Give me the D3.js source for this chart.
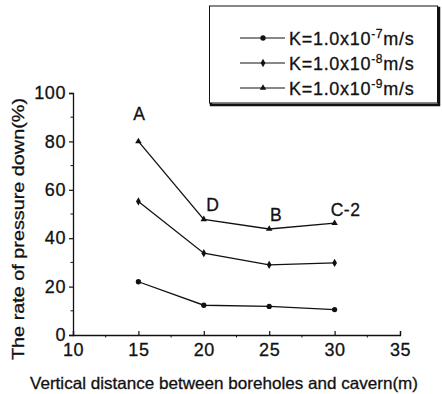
<!DOCTYPE html>
<html>
<head>
<meta charset="utf-8">
<script src="https://cdn.jsdelivr.net/npm/d3@7"></script>
<style>
  html, body { margin: 0; padding: 0; background: #fff; }
  svg { display: block; }
  text { font-family: "Liberation Sans", Arial, sans-serif; fill: #111; stroke: #111; stroke-width: 0.3; }
</style>
</head>
<body>
<svg id="chart" width="442" height="394"></svg>
<script>
// Vertical distance between boreholes and cavern (m)
const distances = [15, 20, 25, 30];
// Rate of pressure down (%) for each permeability
const seriesK7 = [22, 12.3, 11.8, 10.5];
const seriesK8 = [55.2, 33.8, 29, 29.8];
const seriesK9 = [80, 47.8, 43.8, 46.2];
const seriesNames = ["-7", "-8", "-9"];
const pointLabels = ["A", "D", "B", "C-2"];
const xTicks = [10, 15, 20, 25, 30, 35];
const yTicks = [0, 20, 40, 60, 80, 100];

const svg = d3.select("#chart");
const x = d3.scaleLinear().domain([10, 35]).range([73, 400]);
const y = d3.scaleLinear().domain([0, 100]).range([335, 93]);

const ink = "#111";

// axes
const yAxis = d3.axisLeft(y).tickValues(yTicks).tickSize(4).tickPadding(3).tickFormat(d3.format("d"));
const gy = svg.append("g").attr("transform", `translate(${x.range()[0]},0)`).call(yAxis);
const xAxis = d3.axisBottom(x).tickValues(xTicks).tickSize(-4).tickPadding(8).tickFormat(d3.format("d"));
const gx = svg.append("g").attr("transform", `translate(0,${y.range()[0]})`).call(xAxis);
[gx, gy].forEach(g => {
  g.select(".domain").attr("stroke", ink).attr("stroke-width", 1.3);
  g.selectAll(".tick line").attr("stroke", ink).attr("stroke-width", 1.2);
  g.selectAll(".tick text").attr("font-size", 18).attr("fill", ink)
    .attr("letter-spacing", 0.6)
    .attr("font-family", "Liberation Sans, Arial, sans-serif");
});
gx.selectAll(".tick text").attr("dy", "0.71em");
// minor ticks
svg.append("g").selectAll("line").data(d3.range(12.5, 35, 5)).join("line")
  .attr("x1", d => x(d)).attr("x2", d => x(d))
  .attr("y1", y(0)).attr("y2", y(0) + 2.5)
  .attr("stroke", ink).attr("stroke-width", 1);
svg.append("g").selectAll("line").data(d3.range(10, 100, 20)).join("line")
  .attr("x1", x(10)).attr("x2", x(10) - 2.5)
  .attr("y1", d => y(d)).attr("y2", d => y(d))
  .attr("stroke", ink).attr("stroke-width", 1);

// axis titles
svg.append("text").attr("x", 224).attr("y", 389).attr("text-anchor", "middle")
  .attr("font-size", 16.5).attr("textLength", 388).attr("lengthAdjust", "spacingAndGlyphs")
  .text("Vertical distance between boreholes and cavern(m)");
svg.append("text").attr("transform", "translate(24,229) rotate(-90)").attr("text-anchor", "middle")
  .attr("font-size", 17).attr("textLength", 262).attr("lengthAdjust", "spacingAndGlyphs")
  .text("The rate of pressure down(%)");

// series
const series = [seriesK7, seriesK8, seriesK9];
const symbols = [d3.symbolCircle, d3.symbolDiamond, d3.symbolTriangle];
const sizes = [22, 20, 18];
const line = d3.line().x((d, i) => x(distances[i])).y(d => y(d));
series.forEach((s, k) => {
  svg.append("path").datum(s).attr("d", line).attr("fill", "none")
    .attr("stroke", ink).attr("stroke-width", 1.3);
  svg.append("g").selectAll("path").data(s).join("path")
    .attr("transform", (d, i) => `translate(${x(distances[i])},${y(d)})`)
    .attr("d", d3.symbol().type(symbols[k]).size(sizes[k]))
    .attr("fill", ink);
});

// point labels on the top series
const labelOffsets = [[1, -21], [9, -8], [7, -8], [11, -7]];
svg.append("g").selectAll("text").data(seriesK9).join("text")
  .attr("x", (d, i) => x(distances[i]) + labelOffsets[i][0])
  .attr("y", (d, i) => y(d) + labelOffsets[i][1])
  .attr("text-anchor", "middle").attr("font-size", 17.5).attr("letter-spacing", 0.5)
  .text((d, i) => pointLabels[i]);

// legend
const lg = svg.append("g");
lg.append("rect").attr("x", 211).attr("y", 8).attr("width", 228).attr("height", 97)
  .attr("fill", "none").attr("stroke", ink).attr("stroke-width", 2.5);
lg.append("rect").attr("x", 209.5).attr("y", 6).attr("width", 228).attr("height", 97)
  .attr("fill", "#fff").attr("stroke", ink).attr("stroke-width", 1);
const rowsY = [38, 63, 88];
seriesNames.forEach((n, k) => {
  const ry = rowsY[k];
  lg.append("line").attr("x1", 240).attr("x2", 285).attr("y1", ry).attr("y2", ry)
    .attr("stroke", ink).attr("stroke-width", 1);
  lg.append("path").attr("transform", `translate(263,${ry})`)
    .attr("d", d3.symbol().type(symbols[k]).size(sizes[k])).attr("fill", ink);
  const t = lg.append("text").attr("x", 289).attr("y", ry + 6.5)
    .attr("font-size", 18).attr("letter-spacing", 0.7);
  t.append("tspan").text("K=1.0x10");
  t.append("tspan").attr("font-size", 12).attr("dy", -7).text(n);
  t.append("tspan").attr("dy", 7).text("m/s");
});
</script>
</body>
</html>
